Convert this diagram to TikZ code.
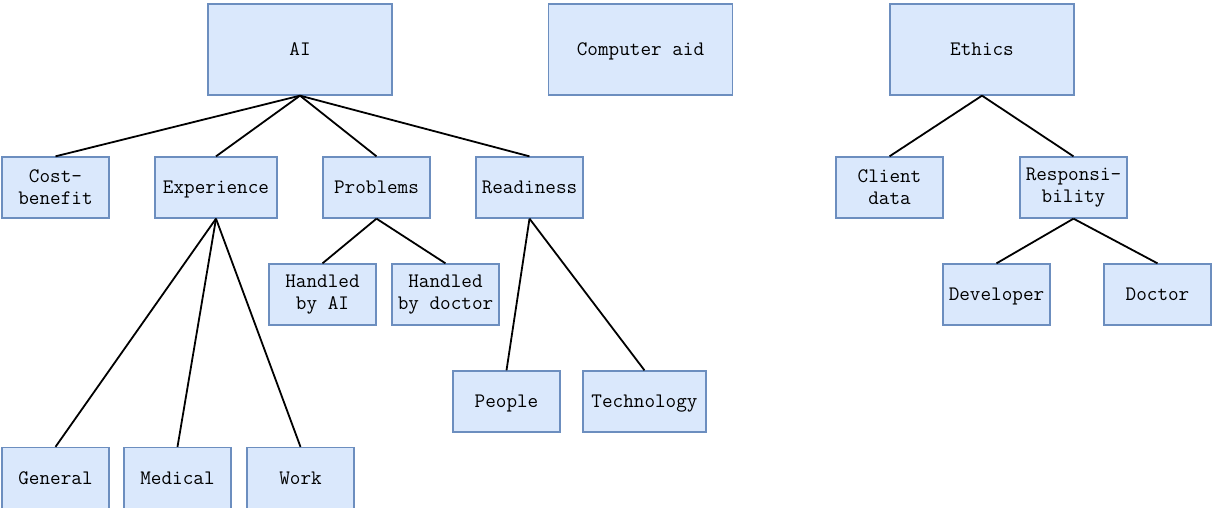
\documentclass[tikz,border=0pt]{standalone}
\usepackage{fontspec}
\definecolor{boxfill}{HTML}{DAE8FC}
\definecolor{boxline}{HTML}{6C8EBF}
\begin{document}
\begin{tikzpicture}[x=1pt,y=-1pt,
  twoline/.style={draw=boxline, fill=boxfill, line width=1.3pt, inner sep=0pt,
    minimum width=107pt, minimum height=61pt, align=center,
    font=\ttfamily\fontsize{20.6}{22}\selectfont},
  box/.style={twoline, text height=12.6pt, text depth=0pt},
  big/.style={box, minimum width=184pt, minimum height=91pt},
  wide/.style={box, minimum width=122pt},
  link/.style={draw=black, line width=1.8pt}]
\useasboundingbox (0,0) rectangle (1212,508);
% top level
\node[big] (ai) at (300,49.5) {AI};
\node[big] (comp) at (640.5,49.5) {Computer aid};
\node[big] (eth) at (982,49.5) {Ethics};
% second level
\node[twoline] (cost) at (55.5,187.5) {Cost-\\benefit};
\node[wide] (exp) at (216,187.5) {Experience};
\node[box] (prob) at (376.5,187.5) {Problems};
\node[box] (ready) at (529.5,187.5) {Readiness};
\node[twoline] (client) at (889.5,187.5) {Client\\data};
\node[twoline] (resp) at (1073.5,187.5) {Responsi-\\bility};
% third level
\node[twoline] (hai) at (322.5,294.5) {Handled\\by AI};
\node[twoline] (hdoc) at (445.5,294.5) {Handled\\by doctor};
\node[box] (dev) at (996.5,294.5) {Developer};
\node[box] (doc) at (1157.5,294.5) {Doctor};
\node[box] (people) at (506.5,401.5) {People};
\node[wide, minimum width=123pt] (tech) at (644.5,401.5) {Technology};
\node[box] (gen) at (55.5,478) {General};
\node[box] (med) at (177.5,478) {Medical};
\node[box] (work) at (300.5,478) {Work};
% connectors
\foreach \c in {cost,exp,prob,ready} \draw[link] (ai.south) -- (\c.north);
\foreach \c in {gen,med,work} \draw[link] (exp.south) -- (\c.north);
\foreach \c in {hai,hdoc} \draw[link] (prob.south) -- (\c.north);
\foreach \c in {people,tech} \draw[link] (ready.south) -- (\c.north);
\foreach \c in {client,resp} \draw[link] (eth.south) -- (\c.north);
\foreach \c in {dev,doc} \draw[link] (resp.south) -- (\c.north);
\end{tikzpicture}
\end{document}
